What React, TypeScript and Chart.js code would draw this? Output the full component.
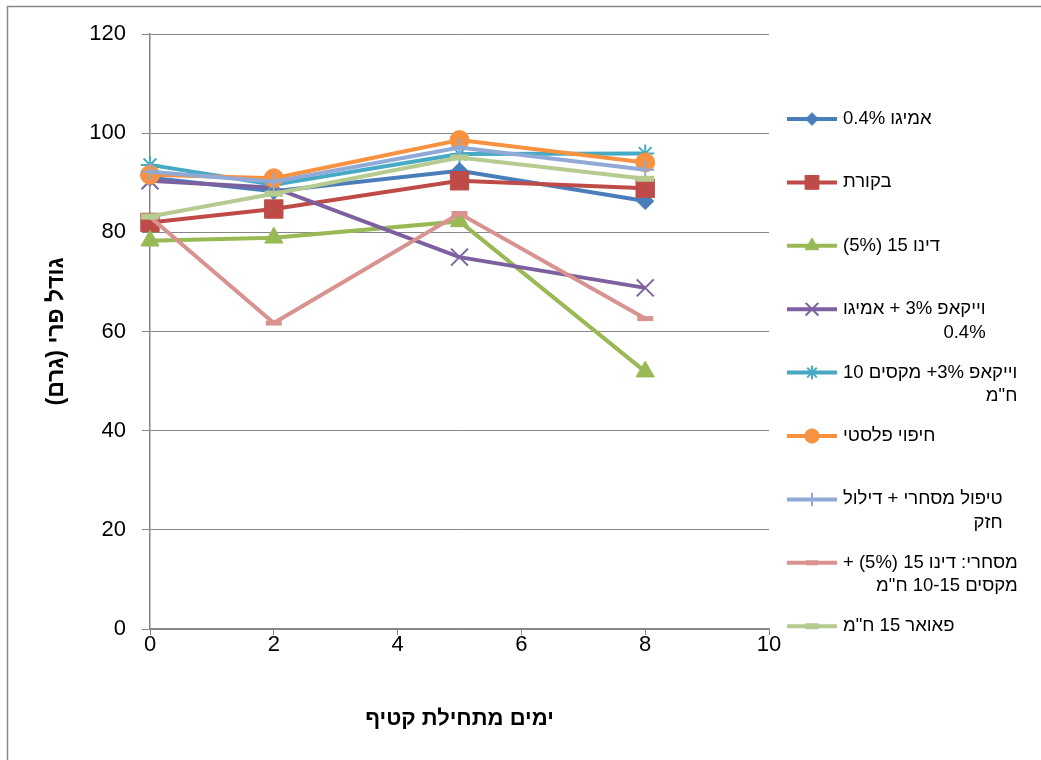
import React, { useEffect, useRef } from 'react';
import { Chart, registerables } from 'chart.js';
import { drawPoint } from 'chart.js/helpers';

Chart.register(...registerables);

// Days since harvest (x values)
const days = [0, 2, 5, 8];

// Series names (legend), '\n' marks a legend line break
const seriesNames = [
  'אמיגו 0.4%',
  'בקורת',
  'דינו 15 (5%)',
  'וייקאפ 3% + אמיגו\n0.4%',
  'וייקאפ 3%+ מקסים 10\nח"מ',
  'חיפוי פלסטי',
  'טיפול מסחרי + דילול\nחזק',
  'מסחרי: דינו 15 (5%) +\nמקסים 10-15 ח"מ',
  'פאואר 15 ח"מ',
];

// Fruit size (grams) per series
const amigo = [91.0, 88.3, 92.4, 86.3];
const control = [82.0, 84.7, 90.4, 88.9];
const dino = [78.3, 78.9, 82.2, 51.9];
const vicapAmigo = [90.4, 89.0, 75.0, 68.8];
const vicapMaxim = [93.6, 89.6, 95.8, 95.9];
const plastic = [91.6, 90.9, 98.6, 94.1];
const commercialThinning = [92.2, 90.2, 97.1, 92.6];
const commercialDinoMaxim = [83.1, 61.7, 83.8, 62.6];
const power = [83.2, 87.8, 95.1, 90.8];

const seriesValues = [
  amigo,
  control,
  dino,
  vicapAmigo,
  vicapMaxim,
  plastic,
  commercialThinning,
  commercialDinoMaxim,
  power,
];

const colors = [
  '#4A7EBB',
  '#BE4B48',
  '#98B954',
  '#7D60A0',
  '#46AAC5',
  '#F69240',
  '#91A9D6',
  '#D8928F',
  '#B5CB8F',
];

const pointStyles = ['rectRot', 'rect', 'triangle', 'crossRot', 'star', 'circle', 'cross', 'line', 'line'];
const pointRadii = [8.5, 13, 10.5, 12, 9, 9.5, 9, 8, 9];
const pointBorders = [1, 1, 1, 2, 2, 1, 2, 5, 6];

const FONT = '"Liberation Sans", Arial, sans-serif';
const GRID = '#878787';

const framePlugin = {
  id: 'frameLegend',
  afterDraw(chart: any) {
    const ctx: CanvasRenderingContext2D = chart.ctx;
    ctx.save();
    ctx.strokeStyle = GRID;
    ctx.lineWidth = 1.5;
    ctx.strokeRect(7.5, 6.5, 1200, 1200);

    ctx.font = `18.5px ${FONT}`;
    (ctx as any).direction = 'rtl';
    ctx.textAlign = 'right';
    ctx.textBaseline = 'middle';
    seriesNames.forEach((name, i) => {
      const y = 119 + i * 63.4;
      const lines = name.split('\n');
      ctx.strokeStyle = colors[i];
      ctx.lineWidth = 4;
      ctx.beginPath();
      ctx.moveTo(787, y);
      ctx.lineTo(837, y);
      ctx.stroke();
      ctx.fillStyle = colors[i];
      ctx.lineWidth = pointBorders[i];
      drawPoint(ctx, { pointStyle: pointStyles[i], radius: pointRadii[i] * 0.75, borderWidth: pointBorders[i], rotation: 0 } as any, 812, y);
      const w = Math.max(...lines.map((l) => ctx.measureText(l).width));
      ctx.fillStyle = '#000';
      lines.forEach((l, k) => ctx.fillText(l, 843 + w, y + k * 23.5));
    });
    ctx.restore();
  },
};

export default function App() {
  const ref = useRef<HTMLCanvasElement>(null);
  useEffect(() => {
    document.body.style.margin = '0';
    const canvas = ref.current!;
    const n = seriesValues.length;
    const chart = new Chart(canvas, {
      type: 'line',
      data: {
        datasets: seriesValues.map((vals, i) => ({
          label: seriesNames[i],
          data: days.map((d, j) => ({ x: d, y: vals[j] })),
          borderColor: colors[i],
          backgroundColor: colors[i],
          borderWidth: 4,
          pointStyle: pointStyles[i] as any,
          pointRadius: pointRadii[i],
          pointBorderWidth: pointBorders[i],
          pointBackgroundColor: colors[i],
          pointBorderColor: colors[i],
          tension: 0,
          fill: false,
          clip: false as any,
          order: n - i,
        })),
      },
      options: {
        responsive: false,
        animation: false,
        layout: { padding: { left: 0, top: 34, right: 272, bottom: 0 } },
        plugins: { legend: { display: false }, tooltip: { enabled: false } },
        scales: {
          x: {
            type: 'linear',
            min: 0,
            max: 10,
            ticks: { stepSize: 2, color: '#000', font: { family: FONT, size: 22 }, padding: -3 },
            grid: { drawOnChartArea: false, color: GRID, tickLength: 6, tickColor: GRID },
            border: { color: GRID, width: 1.5 },
            title: {
              display: true,
              text: 'ימים מתחילת קטיף',
              color: '#000',
              font: { family: FONT, size: 22, weight: 'bold' },
              padding: { top: 0, bottom: 28 },
            },
            afterFit: (s: any) => {
              s.height = 131;
            },
          },
          y: {
            min: 0,
            max: 120,
            ticks: { stepSize: 20, color: '#000', font: { family: FONT, size: 22 }, padding: 16 },
            grid: { color: GRID, tickLength: 8, tickColor: GRID },
            border: { color: GRID, width: 1.5 },
            title: {
              display: true,
              text: 'גודל פרי (גרם)',
              color: '#000',
              font: { family: FONT, size: 23, weight: 'bold' },
              padding: { top: 43, bottom: 0 },
            },
            afterFit: (s: any) => {
              s.width = 150;
            },
          },
        },
      },
      plugins: [framePlugin],
    });
    return () => chart.destroy();
  }, []);
  return (
    <canvas ref={ref} width={1041} height={760} style={{ display: 'block', direction: 'rtl', background: '#fff' }} />
  );
}
